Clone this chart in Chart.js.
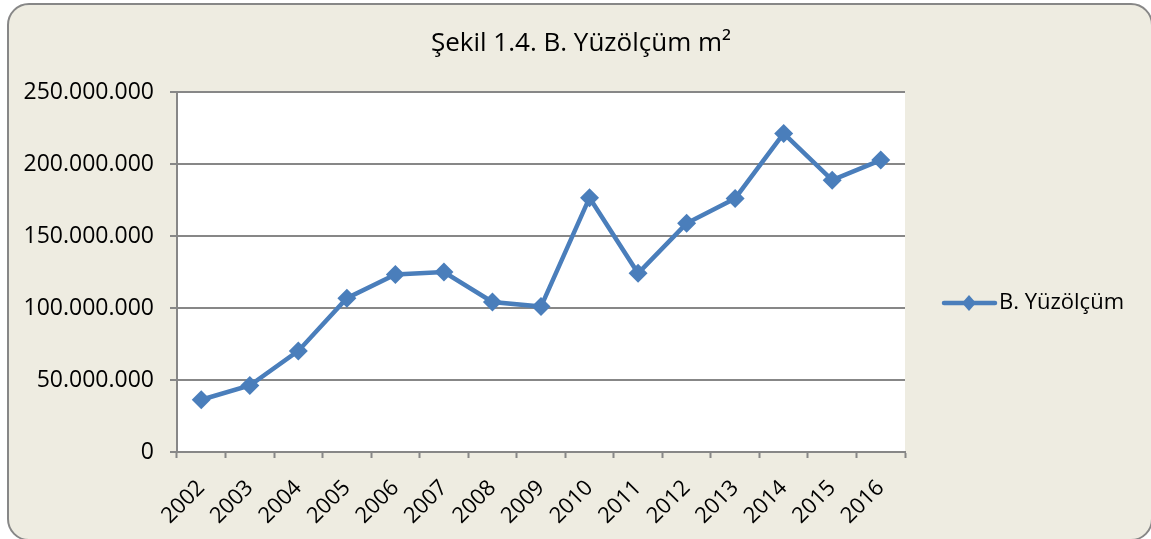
<!DOCTYPE html>
<html>
<head>
<meta charset="utf-8">
<script src="https://cdn.jsdelivr.net/npm/chart.js@4"></script>
<style>
    body { margin: 0; background: #ffffff; }
    #frame {
        position: absolute; left: 7px; top: 3px; width: 1146px; height: 538px;
        box-sizing: border-box; border: 2px solid #878787; border-radius: 22px;
        background: #EEECE1;
    }
    #chart { position: absolute; left: 0; top: 0; }
</style>
</head>
<body>
<div id="frame"></div>
<canvas id="chart" width="1151" height="539"></canvas>
<script>
const chartTitle = 'Şekil 1.4. B. Yüzölçüm m²'
const seriesLabel = 'B. Yüzölçüm'

const years = ['2002', '2003', '2004', '2005', '2006', '2007', '2008', '2009',
    '2010', '2011', '2012', '2013', '2014', '2015', '2016']

const areaValues = [36300000, 46200000, 70200000, 106800000, 123200000, 125000000,
    104200000, 101000000, 176600000, 124100000, 158800000, 176100000,
    221200000, 188800000, 202700000]

const yMin = 0
const yMax = 250000000
const yStep = 50000000

const lineBlue = '#4A7EBB'
const axisGray = '#878787'
const fontFamily = "'Open Sans', sans-serif"

function withDots(v) {
    return String(v).replace(/\B(?=(\d{3})+(?!\d))/g, '.')
}

// plot background, title and legend drawn by hand (Excel style)
const decor = {
    id: 'decor',
    beforeDraw(chart) {
        const { ctx, chartArea: a } = chart
        ctx.save()
        ctx.fillStyle = '#ffffff'
        ctx.fillRect(a.left, a.top, a.right - a.left, a.bottom - a.top)
        ctx.restore()
    },
    afterDraw(chart) {
        const ctx = chart.ctx
        ctx.save()
        ctx.fillStyle = '#000000'
        ctx.textBaseline = 'middle'
        ctx.textAlign = 'center'
        ctx.font = `26px ${fontFamily}`
        ctx.fillText(chartTitle, 581, 44)

        // legend: line with a diamond, then the label
        const ds = chart.data.datasets[0]
        const ly = 303
        ctx.strokeStyle = ds.borderColor
        ctx.lineWidth = 4.5
        ctx.lineCap = 'round'
        ctx.beginPath()
        ctx.moveTo(944, ly)
        ctx.lineTo(995, ly)
        ctx.stroke()
        ctx.fillStyle = ds.borderColor
        ctx.beginPath()
        ctx.moveTo(969, ly - 8)
        ctx.lineTo(976, ly)
        ctx.lineTo(969, ly + 8)
        ctx.lineTo(962, ly)
        ctx.closePath()
        ctx.fill()
        ctx.fillStyle = '#000000'
        ctx.textAlign = 'left'
        ctx.font = `22px ${fontFamily}`
        ctx.fillText(ds.label, 999, ly)
        ctx.restore()
    }
}

const chart = new Chart(document.getElementById('chart'), {
    type: 'line',
    data: {
        labels: years,
        datasets: [{
            label: seriesLabel,
            data: areaValues,
            borderColor: lineBlue,
            backgroundColor: lineBlue,
            borderWidth: 4.5,
            pointStyle: 'rectRot',
            pointRadius: 9.5,
            pointHoverRadius: 9.5,
            pointBorderWidth: 0,
            pointBackgroundColor: lineBlue,
            tension: 0
        }]
    },
    plugins: [decor],
    options: {
        responsive: false,
        animation: false,
        devicePixelRatio: 1,
        events: [],
        layout: { padding: { top: 92, right: 246, bottom: 0, left: 0 } },
        plugins: {
            legend: { display: false },
            tooltip: { enabled: false },
            title: { display: false }
        },
        scales: {
            y: {
                min: yMin,
                max: yMax,
                afterFit: s => { s.width = 177 },
                ticks: {
                    stepSize: yStep,
                    color: '#000000',
                    padding: 16,
                    font: { family: fontFamily, size: 23 },
                    callback: v => withDots(v)
                },
                grid: { color: axisGray, lineWidth: 2, tickLength: 7 },
                border: { color: axisGray, width: 2 }
            },
            x: {
                offset: true,
                afterFit: s => { s.height = 87 },
                ticks: {
                    color: '#000000',
                    minRotation: 45,
                    maxRotation: 45,
                    autoSkip: false,
                    padding: 17,
                    font: { family: fontFamily, size: 22 }
                },
                grid: {
                    offset: true,
                    drawOnChartArea: false,
                    tickLength: 6,
                    tickColor: axisGray,
                    tickWidth: 2
                },
                border: { color: axisGray, width: 2 }
            }
        }
    }
})
</script>
</body>
</html>
